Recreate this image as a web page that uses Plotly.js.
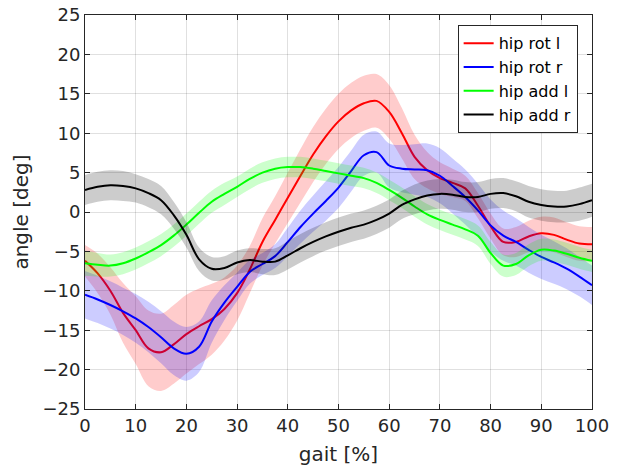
<!DOCTYPE html>
<html>
<head>
<meta charset="utf-8">
<script src="https://cdn.plot.ly/plotly-3.0.1.min.js"></script>
<style>html,body{margin:0;padding:0;background:#fff;}#chart{width:619px;height:470px;}</style>
</head>
<body>
<div id="chart"></div>
<script>
const gait = [0,2.5,5,7.5,10,12.5,15,17.5,20,22.5,25,27.5,30,32.5,35,37.5,40,42.5,45,47.5,50,52.5,55,57.5,60,62.5,65,67.5,70,72.5,75,77.5,80,82.5,85,87.5,90,92.5,95,97.5,100];

const hipRotL   = [-6.2,-7.8,-10.0,-12.8,-15.0,-17.3,-17.8,-16.8,-15.5,-14.5,-13.6,-12.3,-10.3,-7.3,-3.8,-1.0,1.8,4.6,7.3,9.6,11.5,12.9,13.8,14.1,12.7,10.0,7.0,5.3,4.3,3.7,3.0,0.8,-1.8,-3.8,-3.8,-3.1,-2.7,-2.9,-3.5,-4.0,-4.1];
const hipRotLsd = [2.0,2.5,3.0,3.8,4.3,4.8,4.9,5.0,5.0,4.8,4.5,4.0,3.5,3.0,3.0,3.0,3.2,3.4,3.5,3.5,3.5,3.5,3.5,3.4,3.4,3.2,2.8,2.3,2.0,1.8,1.6,1.6,1.6,1.7,1.9,2.0,2.1,2.2,2.2,2.2,2.2];

const hipRotR   = [-10.5,-11.1,-11.8,-12.6,-13.5,-14.6,-15.9,-17.3,-18.0,-17.1,-13.9,-11.5,-9.5,-7.6,-6.6,-5.6,-3.8,-1.9,-0.2,1.4,3.1,5.2,7.2,7.6,5.9,5.5,5.4,5.3,4.6,3.3,1.9,0.2,-1.7,-3.0,-3.8,-4.8,-5.7,-6.4,-7.2,-8.2,-9.3];
const hipRotRsd = [3.0,3.0,3.0,3.0,3.1,3.2,3.3,3.4,3.4,3.2,2.7,2.2,1.8,1.5,1.4,1.5,1.8,2.1,2.3,2.5,2.6,2.6,2.6,2.6,2.8,3.0,3.2,3.4,3.5,3.5,3.5,3.4,3.3,3.2,3.0,2.9,2.8,2.7,2.6,2.5,2.5];

const hipAddL   = [-6.5,-6.7,-6.8,-6.5,-5.9,-5.1,-4.2,-3.0,-1.6,-0.1,1.3,2.3,3.2,4.2,5.0,5.5,5.7,5.7,5.5,5.2,4.9,4.6,4.3,3.7,2.8,1.8,0.7,-0.3,-1.0,-1.6,-2.2,-3.0,-5.2,-6.8,-6.6,-5.5,-4.8,-4.9,-5.3,-5.8,-6.2];
const hipAddLsd = [1.6,1.5,1.4,1.4,1.4,1.4,1.4,1.4,1.4,1.4,1.4,1.4,1.3,1.3,1.3,1.3,1.3,1.3,1.3,1.3,1.3,1.3,1.3,1.3,1.3,1.3,1.3,1.3,1.3,1.3,1.3,1.3,1.4,1.4,1.4,1.4,1.4,1.4,1.4,1.4,1.4];

const hipAddR   = [2.8,3.2,3.4,3.3,3.0,2.4,1.5,-0.4,-2.9,-6.0,-7.2,-7.1,-6.4,-6.1,-6.3,-6.3,-5.5,-4.6,-3.8,-3.1,-2.5,-2.0,-1.6,-1.0,-0.2,0.9,1.6,2.1,2.3,2.2,1.9,1.9,2.3,2.4,2.0,1.3,0.9,0.7,0.7,1.0,1.5];
const hipAddRsd = [1.9,1.9,1.9,1.9,1.8,1.8,1.8,1.7,1.6,1.5,1.5,1.5,1.5,1.5,1.6,1.7,1.8,1.8,1.8,1.8,1.8,1.8,1.8,1.8,1.8,1.8,1.9,1.9,1.9,1.9,1.9,1.9,1.9,1.9,1.9,2.0,2.0,2.0,2.0,2.1,2.1];

const seriesNames = ['hip rot l','hip rot r','hip add l','hip add r'];
const means = [hipRotL, hipRotR, hipAddL, hipAddR];
const sds = [hipRotLsd, hipRotRsd, hipAddLsd, hipAddRsd];
const lineColors = ['#ff0000','#0000ff','#00ff00','#000000'];
const bandColors = ['rgba(255,0,0,0.2)','rgba(0,0,255,0.2)','rgba(0,255,0,0.2)','rgba(0,0,0,0.2)'];

const FONT = 'DejaVu Sans';

const traces = [];
for (let i = 0; i < 4; i++) {
  const m = means[i], s = sds[i];
  traces.push({x: gait, y: m.map((v,k)=>v - s[k]), mode:'lines', line:{width:0, shape:'spline', color:bandColors[i]}, showlegend:false, hoverinfo:'skip'});
  traces.push({x: gait, y: m.map((v,k)=>v + s[k]), mode:'lines', line:{width:0, shape:'spline', color:bandColors[i]}, fill:'tonexty', fillcolor:bandColors[i], showlegend:false, hoverinfo:'skip'});
  traces.push({x: gait, y: m, mode:'lines', name: seriesNames[i], line:{width:2, shape:'spline', color: lineColors[i]}});
}

const axisCommon = {
  showline:true, linecolor:'#262626', linewidth:1, mirror:'ticks',
  ticks:'inside', ticklen:5, tickcolor:'#262626',
  showgrid:true, gridcolor:'rgba(0,0,0,0.12)', gridwidth:1,
  zeroline:false,
  tickfont:{family:FONT, size:18, color:'#262626'}
};

const layout = {
  width:619, height:470,
  margin:{l:85, r:27, t:15, b:61},
  paper_bgcolor:'#fff', plot_bgcolor:'#fff',
  font:{family:FONT, color:'#262626'},
  xaxis: Object.assign({}, axisCommon, {range:[0,100], dtick:10, tick0:0,
    title:{text:'gait [%]', font:{family:FONT, size:20, color:'#262626'}, standoff:12}}),
  yaxis: Object.assign({}, axisCommon, {range:[-25,25], dtick:5, tick0:0,
    title:{text:'angle [deg]', font:{family:FONT, size:20, color:'#262626'}, standoff:8}}),
  legend:{x:0.735, y:0.974, xanchor:'left', yanchor:'top', bgcolor:'#fff', bordercolor:'#262626', borderwidth:1,
    font:{family:FONT, size:16, color:'#000'}, tracegroupgap:0, traceorder:'normal'},
  showlegend:true
};

Plotly.newPlot('chart', traces, layout, {displayModeBar:false, staticPlot:true});
</script>
</body>
</html>
